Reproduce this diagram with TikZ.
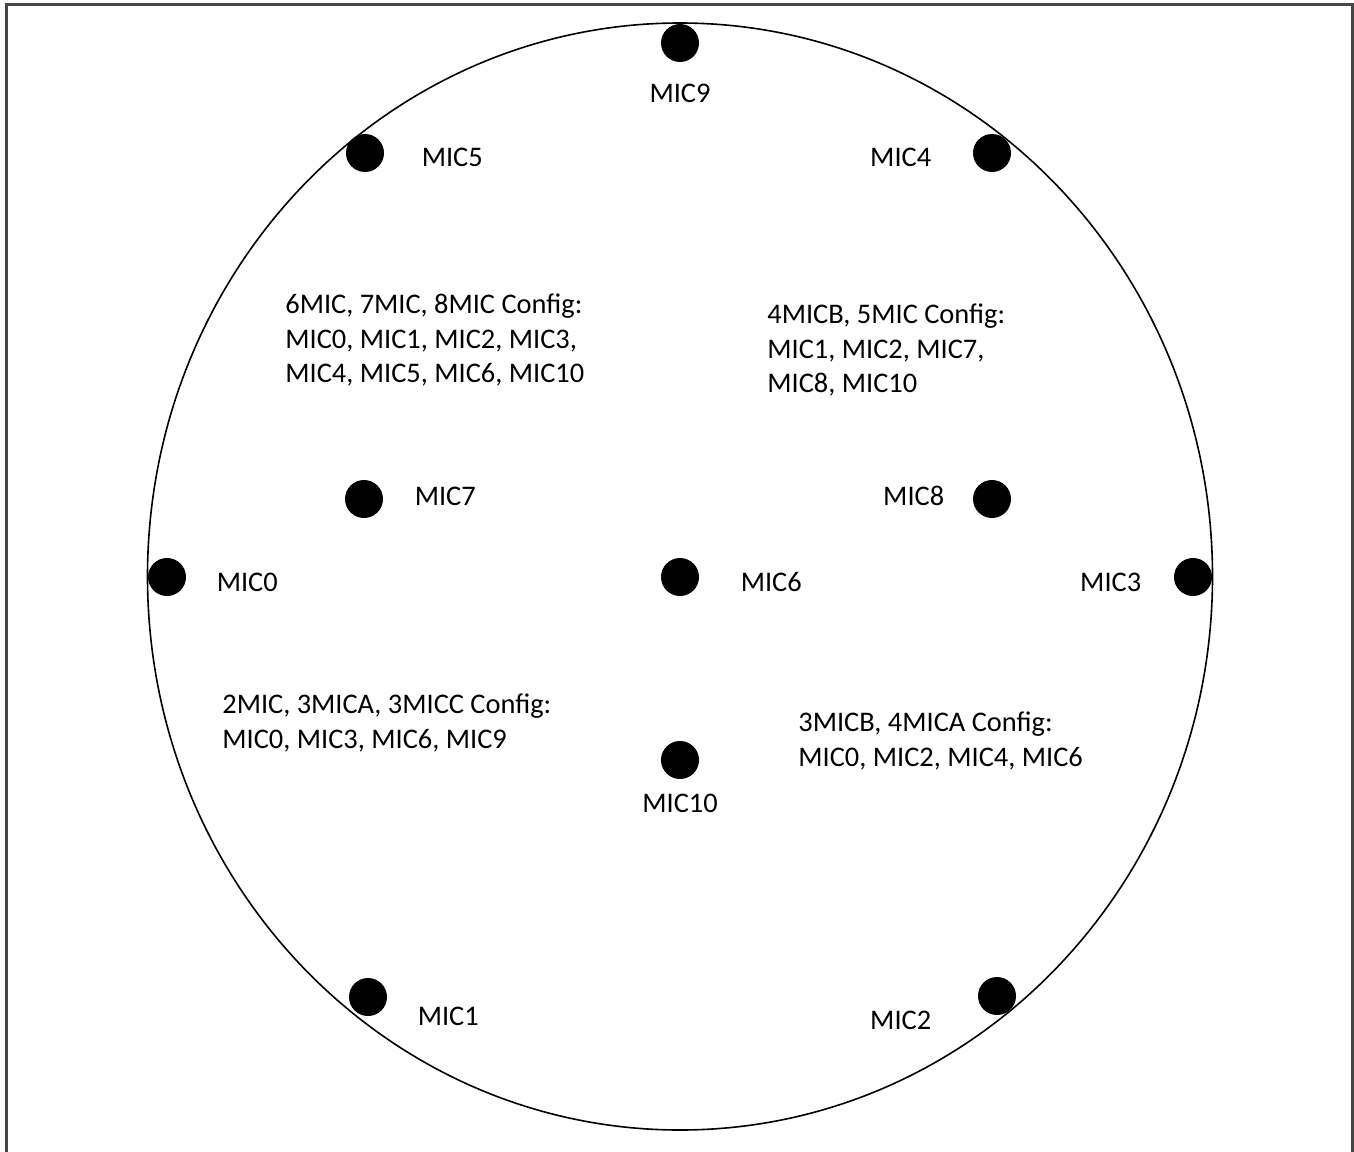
\documentclass[tikz,border=0pt]{standalone}
\usepackage{fontspec}
\setmainfont{Carlito}
\usetikzlibrary{positioning}
\definecolor{framegray}{RGB}{70,70,70}

\begin{document}
\begin{tikzpicture}[
  x=0.5pt, y=-0.5pt,
  node distance=15pt,
  mic/.style={circle, fill=black, inner sep=0pt, minimum size=19pt},
  lbl/.style={font=\fontsize{14.2}{17.3}\selectfont, inner sep=0pt},
  cfg/.style={lbl, align=left, anchor=west},
]
\useasboundingbox (0,0) rectangle (1354,1151);

% Frame and board outline
\draw[framegray, line width=1.5pt] (6,1170) -- (6,4) -- (1352,4) -- (1352,1170);
\draw[line width=0.8pt] (680,576.5) ellipse [x radius=532.5, y radius=553.5];

% Microphones
\node[mic] (mic9) at (680,43) {};
\node[mic] (mic5) at (365,153) {};
\node[mic] (mic4) at (992,153) {};
\node[mic] (mic7) at (364,499) {};
\node[mic] (mic8) at (992,499) {};
\node[mic] (mic0) at (167,577) {};
\node[mic] (mic6) at (680,577) {};
\node[mic] (mic3) at (1193,577) {};
\node[mic] (mic10) at (680,760) {};
\node[mic] (mic1) at (368,997) {};
\node[mic] (mic2) at (997,996) {};

% Labels
\node[lbl, below=10.5pt of mic9] (lbl9) {MIC9};
\node[lbl, right=18.5pt of mic5, yshift=-2pt] (lbl5) {MIC5};
\node[lbl, left=20.5pt of mic4, yshift=-2pt] (lbl4) {MIC4};
\node[lbl, right=15.5pt of mic7, yshift=1.5pt] (lbl7) {MIC7};
\node[lbl, left=14pt of mic8, yshift=1.5pt] (lbl8) {MIC8};
\node[lbl, right=15pt of mic0, yshift=-2.5pt] (lbl0) {MIC0};
\node[lbl, right=20.5pt of mic6, yshift=-2.5pt] (lbl6) {MIC6};
\node[lbl, left=16pt of mic3, yshift=-2.5pt] (lbl3) {MIC3};
\node[lbl, below=7pt of mic10] (lbl10) {MIC10};
\node[lbl, right=15pt of mic1, yshift=-9.5pt] (lbl1) {MIC1};
\node[lbl, left=23pt of mic2, yshift=-12pt] (lbl2) {MIC2};

% Configurations
\node[cfg] (cfg8) at (285,340) {6MIC, 7MIC, 8MIC Config:\\MIC0, MIC1, MIC2, MIC3,\\MIC4, MIC5, MIC6, MIC10};
\node[cfg] (cfg5) at (767,350) {4MICB, 5MIC Config:\\MIC1, MIC2, MIC7,\\MIC8, MIC10};
\node[cfg] (cfg3) at (222,723) {2MIC, 3MICA, 3MICC Config:\\MIC0, MIC3, MIC6, MIC9};
\node[cfg] (cfg4) at (798,741) {3MICB, 4MICA Config:\\MIC0, MIC2, MIC4, MIC6};
\end{tikzpicture}
\end{document}
